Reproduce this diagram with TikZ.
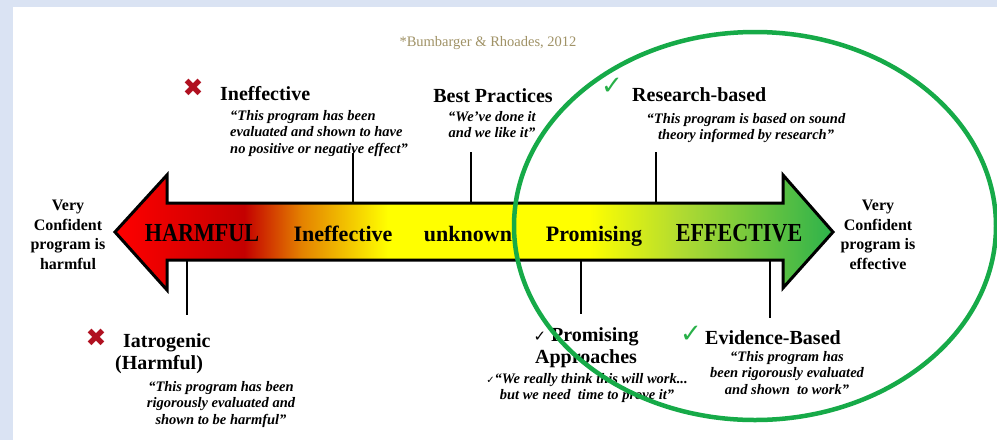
\documentclass[tikz,border=0pt]{standalone}
\usepackage{fontspec}
\setmainfont{Liberation Serif}
\newfontfamily\sym{DejaVu Sans}
\definecolor{bgblue}{RGB}{218,227,243}
\definecolor{citegold}{RGB}{160,146,102}
\definecolor{xred}{RGB}{176,16,32}
\definecolor{okgreen}{RGB}{40,176,72}
\definecolor{ringgreen}{RGB}{22,170,72}
\definecolor{sred}{RGB}{255,0,0}
\definecolor{sdark}{RGB}{196,0,0}
\definecolor{sorange}{RGB}{228,130,0}
\definecolor{syellow}{RGB}{255,255,0}
\definecolor{slime}{RGB}{175,218,50}
\definecolor{sgreen}{RGB}{45,178,75}
% red -> yellow -> green along the scale; the path maps onto 25bp..75bp
\pgfdeclarehorizontalshading{spectrum}{100bp}{
  color(0bp)=(sred); color(25bp)=(sred); color(34bp)=(sdark);
  color(38bp)=(sorange); color(44bp)=(syellow); color(58bp)=(syellow);
  color(64.5bp)=(slime); color(75bp)=(sgreen); color(100bp)=(sgreen)}
\tikzset{
  heading/.style={font=\bfseries\fontsize{20}{22}\selectfont, inner sep=0},
  quote/.style={font=\bfseries\itshape\fontsize{14.5}{16.5}\selectfont, inner sep=0, align=center},
  side/.style={font=\bfseries\fontsize{16}{19.5}\selectfont, inner sep=0, align=center},
  band/.style={font=\bfseries\fontsize{22}{24}\selectfont, inner sep=0},
  bigband/.style={font=\bfseries\fontsize{26}{28}\selectfont, inner sep=0, xscale=0.85},
  tick/.style={line width=2.5pt},
  cross/.style={text=xred, font=\sym\fontsize{25}{25}\selectfont, inner sep=0},
  greencheck/.style={text=okgreen, font=\sym\fontsize{26}{26}\selectfont, inner sep=0},
}
\begin{document}
\begin{tikzpicture}[x=1pt,y=-1pt]
\useasboundingbox (0,0) rectangle (997,440);
% page frame
\fill[bgblue] (0,0) rectangle (997,440);
\fill[white] (13,7) rectangle (997,440);

% citation
\node[font=\fontsize{14.5}{16}\selectfont, text=citegold, inner sep=0] (cite) at (488,43) {*Bumbarger \& Rhoades, 2012};

% double-headed scale arrow
\coordinate (tipL) at (115,232);
\coordinate (tipR) at (833,232);
\shadedraw[shading=spectrum, line width=3pt, line join=miter]
  (tipL) -- (167,175) -- (167,203) -- (783,203) -- (783,175) -- (tipR)
  -- (783,288) -- (783,260) -- (167,260) -- (167,290) -- cycle;

% labels along the arrow
\node[bigband, anchor=base] (harm) at (202,241) {HARMFUL};
\node[band, anchor=base] (ineff) at (343,241) {Ineffective};
\node[band, anchor=base] (unk) at (468,241) {unknown};
\node[band, anchor=base] (prom) at (594,241) {Promising};
\node[bigband, anchor=base] (eff) at (739,241) {EFFECTIVE};

% end notes
\node[side, anchor=north] (veryL) at (68,200) {Very\\Confident\\program is\\harmful};
\node[side, anchor=north] (veryR) at (878,200) {Very\\Confident\\program is\\effective};

% ticks above the arrow
\coordinate (kIneffTop) at (353,153);
\coordinate (kIneffBase) at (353,203);
\coordinate (kBestTop) at (471,152);
\coordinate (kBestBase) at (471,203);
\coordinate (kResTop) at (656,152);
\coordinate (kResBase) at (656,203);
\draw[tick] (kIneffTop) -- (kIneffBase);
\draw[tick] (kBestTop) -- (kBestBase);
\draw[tick] (kResTop) -- (kResBase);

% ticks below the arrow
\coordinate (kIatBase) at (187,260);
\coordinate (kIatEnd) at (187,315);
\coordinate (kPromBase) at (581,260);
\coordinate (kPromEnd) at (581,314);
\coordinate (kEvBase) at (770,260);
\coordinate (kEvEnd) at (770,318);
\draw[tick] (kIatBase) -- (kIatEnd);
\draw[tick] (kPromBase) -- (kPromEnd);
\draw[tick] (kEvBase) -- (kEvEnd);

% upper categories
\node[cross] (xIneff) at (193,88) {✖};
\node[heading, anchor=base west] (hIneff) at (220,100) {Ineffective};
\node[quote, align=left, anchor=north west] (qIneff) at (230,110) {“This program has been\\evaluated and shown to have\\no positive or negative effect”};

\node[heading, anchor=base] (hBest) at (493,102) {Best Practices};
\node[quote, anchor=north] (qBest) at (492,111) {“We've done it\\and we like it”};

\node[greencheck] (cRes) at (612,86) {✓};
\node[heading, anchor=base west] (hRes) at (632,101) {Research-based};
\node[quote, anchor=north] (qRes) at (746,113) {“This program is based on sound\\theory informed by research”};

% lower categories
\node[cross] (xIat) at (96,338) {✖};
\node[heading, align=left, anchor=north west] (hIat) at (115,333) {\hspace*{8pt}Iatrogenic\\(Harmful)};
\node[quote, anchor=north] (qIat) at (221,381) {“This program has been\\rigorously evaluated and\\shown to be harmful”};

\node[heading, align=center, anchor=north] (hProm) at (586,327) {{\sym\fontsize{15}{15}\selectfont ✓} Promising\\Approaches};
\node[quote, anchor=north] (qProm) at (587,373) {{\sym\fontsize{10}{10}\selectfont ✓}“We really think this will work...\\but we need\ \ time to prove it”};

\node[greencheck] (cEv) at (691,334) {✓};
\node[heading, anchor=base west] (hEv) at (705,344) {Evidence-Based};
\node[quote, anchor=north] (qEv) at (787,351) {“This program has\\been rigorously evaluated\\and shown\ \ to work”};

% highlight ring around the effective end
\draw[ringgreen, line width=4.5pt] (755,226) ellipse [x radius=241, y radius=194];
\end{tikzpicture}
\end{document}
